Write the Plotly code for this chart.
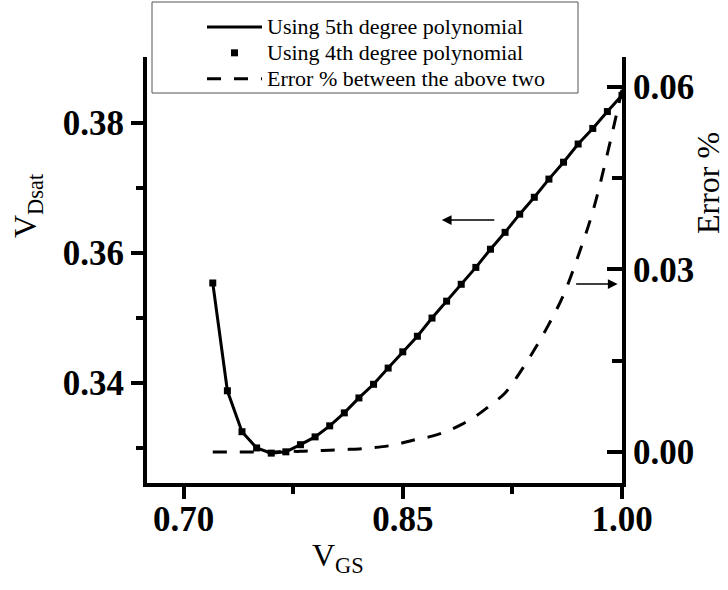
import plotly.graph_objects as go

# ---- data ----
vgs = [0.72, 0.73, 0.74, 0.75, 0.76, 0.77, 0.78, 0.79, 0.80, 0.81,
       0.82, 0.83, 0.84, 0.85, 0.86, 0.87, 0.88, 0.89, 0.90, 0.91,
       0.92, 0.93, 0.94, 0.95, 0.96, 0.97, 0.98, 0.99, 1.00]

vdsat_5th = [0.3554, 0.3388, 0.3325, 0.3300, 0.3292, 0.3294, 0.3305, 0.3317, 0.3334, 0.3354,
             0.3377, 0.3398, 0.3423, 0.3448, 0.3472, 0.3500, 0.3526, 0.3552, 0.3578, 0.3606,
             0.3632, 0.3660, 0.3686, 0.3714, 0.3740, 0.3768, 0.3792, 0.3818, 0.3843]

vdsat_4th = [0.3554, 0.3388, 0.3325, 0.3300, 0.3292, 0.3294, 0.3305, 0.3317, 0.3334, 0.3354,
             0.3377, 0.3398, 0.3423, 0.3448, 0.3472, 0.3500, 0.3526, 0.3552, 0.3578, 0.3606,
             0.3632, 0.3660, 0.3686, 0.3714, 0.3740, 0.3768, 0.3792, 0.3818, 0.3843]

error_pct = [0.0, 0.0, 0.0, 0.0, 0.0, 0.0001, 0.0001, 0.0002, 0.0003, 0.0004,
             0.0005, 0.0007, 0.0010, 0.0015, 0.0021, 0.0026, 0.0034, 0.0045, 0.0059, 0.0077,
             0.0097, 0.0130, 0.0168, 0.0210, 0.0258, 0.0322, 0.0395, 0.0490, 0.0595]

x_ticks = [0.70, 0.85, 1.00]
x_tick_labels = ["0.70", "0.85", "1.00"]
y_ticks = [0.34, 0.36, 0.38]
y_tick_labels = ["0.34", "0.36", "0.38"]
y2_ticks = [0.00, 0.03, 0.06]
y2_tick_labels = ["0.00", "0.03", "0.06"]

legend_names = ["Using 5th degree polynomial",
                "Using 4th degree polynomial",
                "Error % between the above two"]

# ---- figure ----
W, H = 728, 590
L, R, T, B = 147, 106, 57, 107
PW, PH = W - L - R, H - T - B

def px(xp):
    return (xp - L) / PW

def py(yp):
    return (H - B - yp) / PH

SERIF = "Liberation Serif, Times New Roman, serif"

def big(s):
    return '<span style="font-size:22px">' + s + '</span>'

fig = go.Figure()
fig.add_trace(go.Scatter(
    x=vgs, y=vdsat_5th, mode="lines", name=big(legend_names[0]),
    line=dict(color="black", width=3), yaxis="y"))
fig.add_trace(go.Scatter(
    x=vgs, y=vdsat_4th, mode="markers", name=big(legend_names[1]),
    marker=dict(symbol="square", size=7, color="black"), yaxis="y"))
fig.add_trace(go.Scatter(
    x=vgs, y=error_pct, mode="lines", name=big(legend_names[2]),
    line=dict(color="black", width=3, dash="14px,13px", shape="spline"),
    yaxis="y2"))

tickfont = dict(family=SERIF, size=35, color="black", weight="bold")

fig.update_layout(
    width=W, height=H,
    margin=dict(l=L, r=R, t=T, b=B, pad=0, autoexpand=False),
    paper_bgcolor="white", plot_bgcolor="white",
    font=dict(family=SERIF, color="black"),
    showlegend=True,
    legend=dict(
        x=px(202), y=py(9), xanchor="left", yanchor="top",
        bgcolor="rgba(255,255,255,0)", borderwidth=0,
        font=dict(family=SERIF, size=17.6, color="black"),
        tracegroupgap=0, itemwidth=55,
    ),
    xaxis=dict(
        range=[0.675, 1.0], showgrid=False, zeroline=False,
        showline=True, linecolor="black", linewidth=4, mirror=False,
        ticks="outside", ticklen=12, tickwidth=4, tickcolor="black",
        tickvals=x_ticks, ticktext=x_tick_labels, tickfont=tickfont,
        ticklabelstandoff=-10,
        minor=dict(tickvals=[0.775, 0.925], ticks="outside", ticklen=7,
                   tickwidth=4, tickcolor="black"),
    ),
    yaxis=dict(
        range=[0.3246, 0.3902], showgrid=False, zeroline=False,
        showline=True, linecolor="black", linewidth=4, mirror=False,
        ticks="outside", ticklen=12, tickwidth=4, tickcolor="black",
        tickvals=y_ticks, ticktext=y_tick_labels, tickfont=tickfont,
        minor=dict(tickvals=[0.33, 0.35, 0.37], ticks="outside", ticklen=7,
                   tickwidth=4, tickcolor="black"),
    ),
    yaxis2=dict(
        range=[-0.0051, 0.0649], overlaying="y", side="right", anchor="x",
        showgrid=False, zeroline=False,
        showline=True, linecolor="black", linewidth=4, mirror=False,
        ticks="inside", ticklen=15, tickwidth=4, tickcolor="black",
        tickvals=y2_ticks, ticktext=y2_tick_labels, tickfont=tickfont,
        minor=dict(tickvals=[0.015, 0.045], ticks="inside", ticklen=10,
                   tickwidth=4, tickcolor="black"),
    ),
)

# legend frame
fig.add_shape(type="rect", xref="paper", yref="paper",
              x0=px(152), x1=px(578), y0=py(93), y1=py(2),
              line=dict(color="#555555", width=1), fillcolor="rgba(0,0,0,0)",
              layer="above")

# axis titles
fig.add_annotation(xref="paper", yref="paper", x=px(27), y=py(206),
                   xanchor="center", yanchor="middle",
                   text="V<sub>Dsat</sub>", textangle=-90, showarrow=False,
                   font=dict(family=SERIF, size=32, color="black"))
fig.add_annotation(xref="paper", yref="paper", x=px(338), y=py(557),
                   xanchor="center", yanchor="middle",
                   text="V<sub>GS</sub>", showarrow=False,
                   font=dict(family=SERIF, size=32, color="black"))
fig.add_annotation(xref="paper", yref="paper", x=px(708), y=py(183),
                   xanchor="center", yanchor="middle",
                   text="Error %", textangle=-90, showarrow=False,
                   font=dict(family=SERIF, size=32, color="black"))

# arrows indicating which axis each curve belongs to
arrow_left = dict(x=0.8767, y=0.3651, ax=54, ay=0)
arrow_right = dict(x=0.997, y=0.0276, ax=-43, ay=0)
fig.add_annotation(xref="x", yref="y", x=arrow_left["x"], y=arrow_left["y"],
                   ax=arrow_left["ax"], ay=arrow_left["ay"], showarrow=True,
                   arrowhead=2, arrowsize=1.3, arrowwidth=1.5, arrowcolor="black", text="")
fig.add_annotation(xref="x", yref="y2", x=arrow_right["x"], y=arrow_right["y"],
                   ax=arrow_right["ax"], ay=arrow_right["ay"], showarrow=True,
                   arrowhead=2, arrowsize=1.3, arrowwidth=1.5, arrowcolor="black", text="")

fig.write_html("out.html")
